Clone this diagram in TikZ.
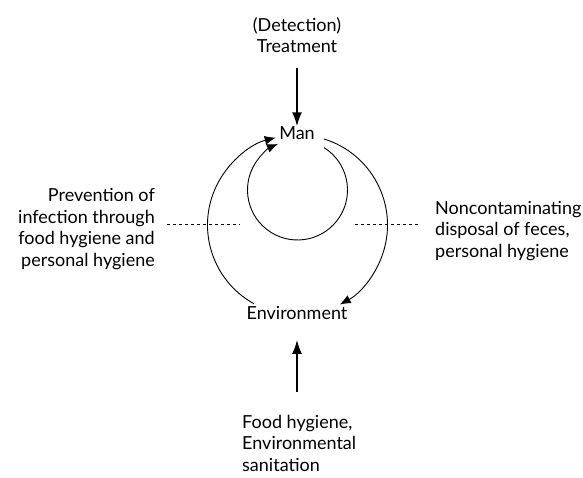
\documentclass[tikz,border=0pt]{standalone}
\usepackage{fontspec}
\setmainfont{Lato}
\usepackage{tikz}
\usetikzlibrary{arrows.meta,positioning,calc}

\begin{document}
\begin{tikzpicture}[x=1pt,y=1pt,
    label/.style={inner sep=0pt,font=\fontsize{18}{21.5}\selectfont},
    flow/.style={draw,-{Latex[length=14pt,width=10pt]},line width=1.8pt},
    cycle/.style={draw,-{Latex[length=11pt,width=9pt]},line width=0.9pt},
    barrier/.style={draw,dashed,line width=0.8pt}]
    \useasboundingbox (0,0) rectangle (583,478);
    \node[label,align=center](treat) at (297,443){(Detection)\\Treatment};
    \node[label](man) at (297,345){Man};
    \node[label](env) at (297,165){Environment};
    \node[label,align=right,anchor=east](prev) at (155,249){Prevention of\\infection through\\food hygiene and\\personal hygiene};
    \node[label,align=left,anchor=west](disp) at (435,247){Noncontaminating\\disposal of feces,\\personal hygiene};
    \node[label,align=left,anchor=west](food) at (242,35){Food hygiene,\\Environmental\\sanitation};
    % circle centres, arrow foot
    \coordinate(outer) at (297.5,253);
    \coordinate(inner) at (297.5,288);
    \coordinate(foot) at (297,86);
    \draw[flow]($(treat.south)+(0,-15)$)--(man.north);
    \draw[flow](foot)--($(env.south)+(0,-20)$);
    \draw[cycle]($(outer)+(73:90)$) arc[start angle=73,end angle=-62,radius=90];
    \draw[cycle]($(outer)+(241:90)$) arc[start angle=241,end angle=104,radius=90];
    \draw[cycle]($(inner)+(58:50)$) arc[start angle=58,end angle=-247,radius=50];
    \draw[barrier]($(prev.east)+(12,5)$)--+(73,0);
    \draw[barrier]($(disp.west)+(-80,7)$)--+(65,0);
\end{tikzpicture}
\end{document}
